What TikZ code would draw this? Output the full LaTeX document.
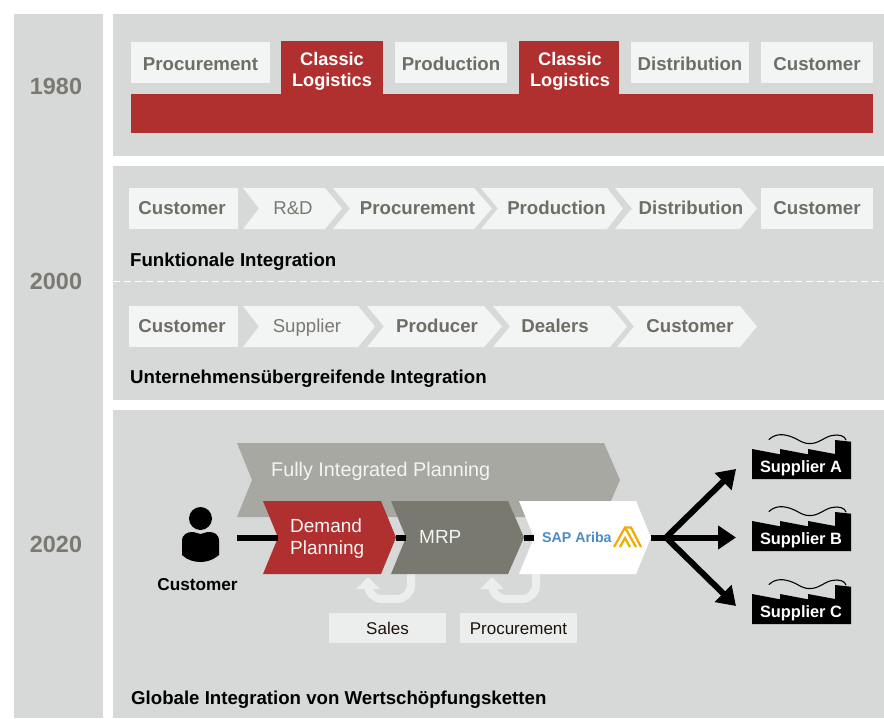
\documentclass[tikz,border=0pt]{standalone}
\usepackage{fontspec}
\usetikzlibrary{arrows.meta}
\setmainfont{Liberation Sans}
\definecolor{panel}{HTML}{D7D9D8}
\definecolor{boxc}{HTML}{F3F5F4}
\definecolor{redc}{HTML}{B03030}
\definecolor{txtg}{HTML}{6E6E66}
\definecolor{lightg}{HTML}{7A7A72}
\definecolor{planc}{HTML}{A7A8A2}
\definecolor{mrpc}{HTML}{797970}
\definecolor{ret}{HTML}{ECEEED}
\definecolor{sapblue}{HTML}{4A8CC7}
\definecolor{sapy}{HTML}{F0AB00}
\newcommand{\chev}[8]{% name, fill, x-left, x-notch, x-topright, x-tip, y-top, y-bot
  \fill[#2] (#3,#7) -- (#5,#7) -- (#6,{(#7+#8)/2}) -- (#5,#8) -- (#3,#8) -- (#4,{(#7+#8)/2}) -- cycle;
  \coordinate (#1-w) at (#4,{(#7+#8)/2});
  \coordinate (#1-e) at (#6,{(#7+#8)/2});
}
\newcommand{\factory}[3]{% name, y offset, label
  \begin{scope}[shift={(0,#2)}]
    \fill[black] (752,449) -- (780,454.3) -- (780,449) -- (808,454.3) -- (808,449) -- (835,454) -- (835,440) -- (851,441.7) -- (851,479) -- (752,479) -- cycle;
    \draw[black,line width=1.1pt,line cap=round] (769,439.5) .. controls (776,433) and (784,434) .. (792,437) .. controls (800,440) and (802,444) .. (811,443.5) .. controls (820,443) and (824,437) .. (832,435.5) .. controls (839,434) and (845,436) .. (846,440);
    \node[white,font=\bfseries\fontsize{16.4}{16.4}\selectfont,inner sep=0pt,anchor=center] (#1) at (801,468.5) {#3};
  \end{scope}
}
\tikzset{
  x=1pt,y=-1pt,
  boxtxt/.style={font=\bfseries\fontsize{18.65}{18.65}\selectfont,text=txtg,inner sep=0pt,anchor=center,text height=13.4pt,text depth=3.9pt},
  regtxt/.style={font=\fontsize{18.65}{18.65}\selectfont,text=lightg,inner sep=0pt,anchor=center,text height=13.4pt,text depth=3.9pt},
  heading/.style={font=\bfseries\fontsize{18.65}{18.65}\selectfont,text=black,inner sep=0pt,anchor=west},
  yeartxt/.style={font=\bfseries\fontsize{23.4}{23.4}\selectfont,text=lightg,inner sep=0pt,anchor=center},
  whitetxt/.style={font=\fontsize{19}{22}\selectfont,text=boxc,inner sep=0pt,align=left},
  redbox/.style={font=\bfseries\fontsize{18.2}{21}\selectfont,text=white,inner sep=0pt,align=center,anchor=center},
  plainbox/.style={fill=ret,inner sep=0pt,font=\fontsize{17}{17}\selectfont,text=black!85!brown,anchor=center,text height=12.2pt,text depth=0.2pt},
  conn/.style={line width=6pt,black},
  arr/.style={line width=6pt,black,-{Triangle[length=18pt,width=23pt]}},
}
\begin{document}
\begin{tikzpicture}
\useasboundingbox (0,0) rectangle (884,718);
\fill[white] (0,0) rectangle (884,718);
% panels
\fill[panel] (14,14) rectangle (103,718);
\fill[panel] (113,14) rectangle (884,155.5);
\fill[panel] (113,166) rectangle (884,400);
\fill[panel] (113,410) rectangle (884,718);
\node[yeartxt] (y1) at (56,86.5) {1980};
\node[yeartxt] (y2) at (56,281.5) {2000};
\node[yeartxt] (y3) at (56,544.5) {2020};
% 1980
\fill[boxc] (131,42) rectangle (270,83);
\node[boxtxt] (a1) at (200.5,65.3) {Procurement};
\fill[boxc] (395,42) rectangle (507,83);
\node[boxtxt] (a3) at (451,65.3) {Production};
\fill[boxc] (631,42) rectangle (749,83);
\node[boxtxt] (a5) at (690,65.3) {Distribution};
\fill[boxc] (761,42) rectangle (873,83);
\node[boxtxt] (a6) at (817,65.3) {Customer};
\fill[redc] (281,41) rectangle (383,95);
\fill[redc] (519,41) rectangle (619,95);
\fill[redc] (131,94) rectangle (873,133);
\node[redbox] (a2) at (332,71.5) {Classic\\Logistics};
\node[redbox] (a4) at (570,71.5) {Classic\\Logistics};
% 2000 row 1
\fill[boxc] (129,188) rectangle (238,229);
\node[boxtxt] (b1) at (182,209.3) {Customer};
\chev{b2s}{boxc}{243}{259}{325}{342}{188}{229}
\node[regtxt] (b2) at (293,209.3) {R\&D};
\chev{b3s}{boxc}{333}{350}{474}{492}{188}{229}
\node[boxtxt] (b3) at (417.5,209.3) {Procurement};
\chev{b4s}{boxc}{481}{498}{607}{623}{188}{229}
\node[boxtxt] (b4) at (556.5,209.3) {Production};
\chev{b5s}{boxc}{615}{632}{740}{757}{188}{229}
\node[boxtxt] (b5) at (691,209.3) {Distribution};
\fill[boxc] (761,188) rectangle (873,229);
\node[boxtxt] (b6) at (817,209.3) {Customer};
\node[heading] (h1) at (130,262) {Funktionale Integration};
\draw[white,line width=1.6pt,dash pattern=on 7pt off 4pt] (113,281.5) -- (884,281.5);
% 2000 row 2
\fill[boxc] (129,306) rectangle (238,347);
\node[boxtxt] (c1) at (182,327.3) {Customer};
\chev{c2s}{boxc}{243}{259}{358}{375}{306}{347}
\node[regtxt] (c2) at (307,327.3) {Supplier};
\chev{c3s}{boxc}{367}{384}{484}{502}{306}{347}
\node[boxtxt] (c3) at (437,327.3) {Producer};
\chev{c4s}{boxc}{493}{510}{610}{627}{306}{347}
\node[boxtxt] (c4) at (555,327.3) {Dealers};
\chev{c5s}{boxc}{617}{634}{740}{757}{306}{347}
\node[boxtxt] (c5) at (690,327.3) {Customer};
\node[heading] (h2) at (130,378.5) {Unternehmensübergreifende Integration};
\node[heading] (h3) at (131,699.5) {Globale Integration von Wertschöpfungsketten};
% 2020
\chev{fip}{planc}{237}{252}{604}{620}{443}{517}
\node[whitetxt,font=\fontsize{19.8}{22}\selectfont,anchor=west] (fipt) at (271,471) {Fully Integrated Planning};
% return arrows
\coordinate (r1a) at (411,574); \coordinate (r1b) at (368,584);
\coordinate (r2a) at (536,574); \coordinate (r2b) at (492,584);
\draw[ret,line width=8pt,rounded corners=14pt] (r1a) -- (411,599) -- (368,599) -- (r1b);
\fill[ret] (368,577) -- (380,589) -- (356,589) -- cycle;
\draw[ret,line width=8pt,rounded corners=14pt] (r2a) -- (536,599) -- (492,599) -- (r2b);
\fill[ret] (492,577) -- (504,589) -- (480,589) -- cycle;
\node[plainbox,minimum width=117pt,minimum height=30pt] (sales) at (387.5,628) {Sales};
\node[plainbox,minimum width=117pt,minimum height=30pt] (proc) at (518.5,628) {Procurement};
% chevrons
\chev{dem}{redc}{263}{278}{381}{396}{501}{574}
\chev{mrp}{mrpc}{391}{406}{508}{524}{501}{574}
\chev{sap}{white}{519}{534}{636}{651}{501}{574}
\coordinate (cust) at (237,537.5);
\coordinate (hub) at (666,537.5);
\draw[conn] (cust) -- (dem-w);
\draw[conn] (dem-e) -- (mrp-w);
\draw[conn] (mrp-e) -- (sap-w);
\draw[conn] (sap-e) -- (hub);
\node[whitetxt,anchor=west] (demt) at (290,538.5) {Demand\\Planning};
\node[whitetxt,anchor=west] (mrpt) at (419,537) {MRP};
% SAP logo
\node[font=\bfseries\fontsize{14.2}{14.2}\selectfont,text=sapblue,inner sep=0pt,anchor=west] (sapt) at (542,537) {SAP Ariba};
\draw[sapy,line width=2.2pt] (614,547) -- (625,527.5) -- (631,527.5) -- (641,547);
\draw[sapy,line width=2.2pt] (620,547) -- (625,538) -- (630,547);
\draw[sapy,line width=2.2pt] (625,527.5) -- (636,547);
% person
\fill[black] (200.5,518.5) circle (11.5);
\fill[black] (182,541) .. controls (182,534) and (188,532) .. (192,532) .. controls (196,532) and (198,534) .. (200.5,534) .. controls (203,534) and (205,532) .. (209,532) .. controls (214,532) and (219,534) .. (219,541) -- (219,555) .. controls (213,560) and (207,562) .. (200.5,562) .. controls (194,562) and (187,560) .. (182,555) -- cycle;
\node[font=\bfseries\fontsize{17.2}{17.2}\selectfont,inner sep=0pt,anchor=center] (custt) at (197.5,585) {Customer};
% suppliers
\factory{sa}{0}{Supplier A}
\factory{sb}{72}{Supplier B}
\factory{sc}{145}{Supplier C}
% arrows
\coordinate (ta) at (736,469);
\coordinate (tb) at (736,537.5);
\coordinate (tc) at (736,606);
\draw[arr] (hub) -- (ta);
\draw[arr] (hub) -- (tb);
\draw[arr] (hub) -- (tc);
\end{tikzpicture}
\end{document}
